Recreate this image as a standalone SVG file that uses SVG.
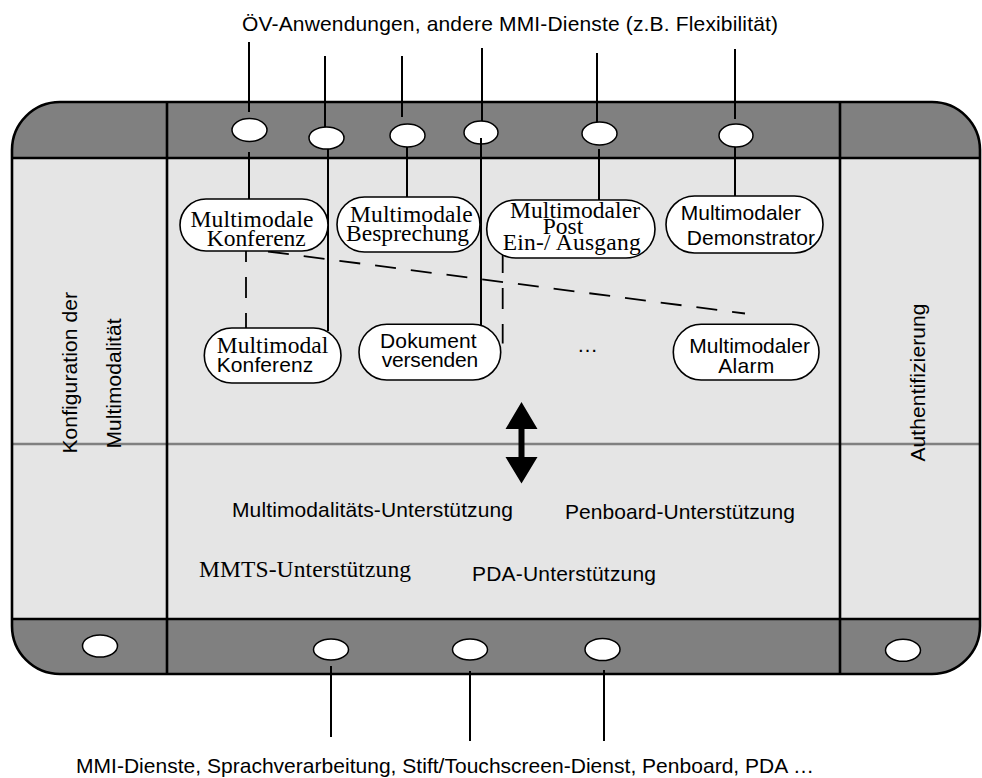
<svg xmlns="http://www.w3.org/2000/svg" width="982" height="778" viewBox="0 0 982 778">
  <style>
    .sans { font-family: "Liberation Sans", Arial, sans-serif; font-size: 21px; fill: #000; }
    .serif { font-family: "Liberation Serif", "Times New Roman", serif; font-size: 23.5px; fill: #000; }
    .wire { stroke: #000; stroke-width: 2; fill: none; }
    .dash { stroke: #000; stroke-width: 1.8; fill: none; stroke-dasharray: 21 15; }
    .port { fill: #fff; stroke: #000; stroke-width: 1.5; }
    .pill { fill: #fff; stroke: #000; stroke-width: 1.6; }
    .frame { fill: none; stroke: #000; stroke-width: 2.6; }
  </style>
  <defs>
    <clipPath id="frameClip">
      <path d="M60,102 H932 A48,48 0 0 1 980,150 V626 A48,48 0 0 1 932,674 H60 A48,48 0 0 1 12,626 V150 A48,48 0 0 1 60,102 Z"/>
    </clipPath>
  </defs>

  <rect width="982" height="778" fill="#fff"/>

  <!-- framework body -->
  <g id="framework">
    <g clip-path="url(#frameClip)">
      <rect x="0" y="90" width="982" height="600" fill="#e5e5e5"/>
      <rect x="0" y="90" width="982" height="68" fill="#808080"/>
      <rect x="0" y="619" width="982" height="70" fill="#808080"/>
    </g>
    <line x1="12" y1="444" x2="980" y2="444" stroke="#808080" stroke-width="2.5"/>
    <line x1="12" y1="158" x2="980" y2="158" class="frame"/>
    <line x1="12" y1="619" x2="980" y2="619" class="frame"/>
    <line x1="167" y1="102" x2="167" y2="674" class="frame"/>
    <line x1="840" y1="102" x2="840" y2="674" class="frame"/>
    <path class="frame" d="M60,102 H932 A48,48 0 0 1 980,150 V626 A48,48 0 0 1 932,674 H60 A48,48 0 0 1 12,626 V150 A48,48 0 0 1 60,102 Z"/>
  </g>

  <!-- side panels -->
  <g id="konfiguration">
    <text class="sans" transform="translate(76.5,453.5) rotate(-90)" textLength="161.5">Konfiguration der</text>
    <text class="sans" transform="translate(120.5,448.5) rotate(-90)" textLength="130">Multimodalität</text>
  </g>
  <g id="authentifizierung">
    <text class="sans" transform="translate(924.5,461.5) rotate(-90)" textLength="158">Authentifizierung</text>
  </g>

  <!-- external labels -->
  <text id="label-top" class="sans" x="242" y="30.5" textLength="536">ÖV-Anwendungen, andere MMI-Dienste (z.B. Flexibilität)</text>
  <text id="label-bottom" class="sans" x="76" y="773" textLength="738">MMI-Dienste, Sprachverarbeitung, Stift/Touchscreen-Dienst, Penboard, PDA …</text>

  <!-- connectors -->
  <g id="connectors">
    <line class="wire" x1="249" y1="42" x2="249" y2="112"/>
    <line class="wire" x1="325" y1="56" x2="325" y2="127"/>
    <line class="wire" x1="402" y1="56" x2="402" y2="117"/>
    <line class="wire" x1="482" y1="48" x2="482" y2="121"/>
    <line class="wire" x1="597" y1="53" x2="597" y2="122"/>
    <line class="wire" x1="735" y1="49" x2="735" y2="119"/>

    <line class="wire" x1="249" y1="152" x2="249" y2="200"/>
    <line class="wire" x1="328" y1="149" x2="328" y2="331"/>
    <line class="wire" x1="407" y1="147" x2="407" y2="198"/>
    <line class="wire" x1="599" y1="149" x2="599" y2="201"/>
    <line class="wire" x1="735" y1="147" x2="735" y2="197"/>

    <line class="wire" x1="331" y1="666" x2="331" y2="737"/>
    <line class="wire" x1="470" y1="671" x2="470" y2="741"/>
    <line class="wire" x1="604" y1="670" x2="604" y2="741"/>

    <line class="dash" x1="246" y1="241" x2="246" y2="332" stroke-dasharray="22 16"/>
    <line class="dash" x1="268" y1="251.5" x2="745" y2="313.5"/>
    <line class="dash" x1="502.7" y1="252" x2="502.7" y2="343.5" stroke-dasharray="11 20 28 21 12"/>

    <path d="M521.5,402 L537.5,429 H524.5 V457 H537.5 L521.5,483.5 L505.5,457 H518.5 V429 H505.5 Z" fill="#000"/>
  </g>

  <!-- ports on the top band -->
  <g id="ports-top">
    <ellipse id="port-t1" class="port" cx="249.5" cy="130" rx="17.5" ry="11.5"/>
    <ellipse id="port-t2" class="port" cx="326.5" cy="138" rx="17.5" ry="11"/>
    <ellipse id="port-t3" class="port" cx="407.5" cy="135.5" rx="17.5" ry="11.5"/>
    <ellipse id="port-t4" class="port" cx="481" cy="132.5" rx="17" ry="11.5"/>
    <ellipse id="port-t5" class="port" cx="599.5" cy="133.5" rx="17.5" ry="11.5"/>
    <ellipse id="port-t6" class="port" cx="736" cy="135.5" rx="17" ry="11.5"/>
  </g>
  <!-- line from the fourth port runs over its port -->
  <line class="wire" x1="481" y1="138" x2="481" y2="327"/>

  <!-- ports on the bottom band -->
  <g id="ports-bottom">
    <ellipse id="port-b1" class="port" cx="100" cy="646" rx="17.5" ry="11"/>
    <ellipse id="port-b2" class="port" cx="331" cy="649.5" rx="17.5" ry="10.5"/>
    <ellipse id="port-b3" class="port" cx="470" cy="649.5" rx="17.5" ry="10.5"/>
    <ellipse id="port-b4" class="port" cx="602.5" cy="649.5" rx="17.5" ry="11"/>
    <ellipse id="port-b5" class="port" cx="903" cy="650.3" rx="17.5" ry="11"/>
  </g>

  <!-- application nodes -->
  <g id="node-konferenz">
    <rect class="pill" x="180" y="199" width="148" height="52" rx="26" ry="26"/>
    <text class="serif" x="190.5" y="226.7" textLength="123">Multimodale</text>
    <text class="serif" x="206.7" y="245.7" textLength="99">Konferenz</text>
  </g>
  <g id="node-besprechung">
    <rect class="pill" x="337" y="197" width="143" height="55" rx="27.5" ry="27.5"/>
    <text class="serif" x="350" y="221.7" textLength="122.7">Multimodale</text>
    <text class="serif" x="346" y="241" textLength="123">Besprechung</text>
  </g>
  <g id="node-post">
    <rect class="pill" x="486.7" y="200" width="168.3" height="58" rx="29" ry="29"/>
    <text class="serif" x="510" y="217.7" textLength="130">Multimodaler</text>
    <text class="serif" x="542.7" y="234" textLength="40.6">Post</text>
    <text class="serif" x="502.7" y="250" textLength="138">Ein-/ Ausgang</text>
  </g>
  <g id="node-demonstrator">
    <rect class="pill" x="666" y="196" width="157" height="57" rx="28.5" ry="28.5"/>
    <text class="sans" x="680.7" y="220" textLength="120.3">Multimodaler</text>
    <text class="sans" x="686.7" y="245" textLength="128.3">Demonstrator</text>
  </g>
  <g id="node-multimodal-konferenz">
    <rect class="pill" x="204.3" y="328" width="136.7" height="55" rx="27.5" ry="27.5"/>
    <text class="serif" x="216.7" y="352.7" textLength="111.6">Multimodal</text>
    <text class="sans" x="216.7" y="371.7" textLength="96.6">Konferenz</text>
  </g>
  <g id="node-dokument">
    <rect class="pill" x="359" y="324.3" width="141.7" height="55.7" rx="27.8" ry="27.8"/>
    <text class="sans" x="380" y="348.3" textLength="96.7">Dokument</text>
    <text class="sans" x="381.7" y="367.3" textLength="96.6">versenden</text>
  </g>
  <g id="node-more">
    <text class="sans" x="577" y="351.7" textLength="19">…</text>
  </g>
  <g id="node-alarm">
    <rect class="pill" x="673.3" y="324.3" width="145.7" height="55.7" rx="27.8" ry="27.8"/>
    <text class="sans" x="689.3" y="353.3" textLength="120.7">Multimodaler</text>
    <text class="sans" x="718.3" y="373.3" textLength="56">Alarm</text>
  </g>

  <!-- support services -->
  <g id="support">
    <text class="sans" x="232" y="516.7" textLength="281">Multimodalitäts-Unterstützung</text>
    <text class="sans" x="565" y="519" textLength="230">Penboard-Unterstützung</text>
    <text class="serif" x="199" y="576.7" textLength="212">MMTS-Unterstützung</text>
    <text class="sans" x="472" y="580.7" textLength="184">PDA-Unterstützung</text>
  </g>
</svg>
